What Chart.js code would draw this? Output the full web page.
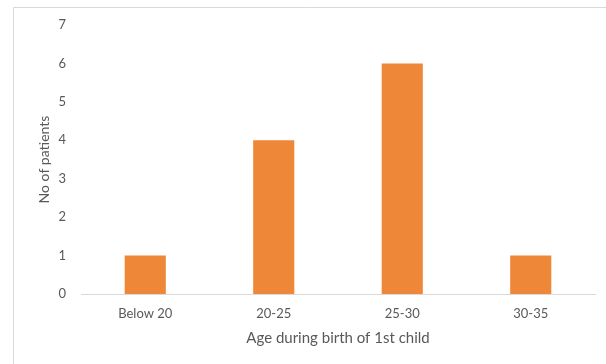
<!DOCTYPE html>
<html>
<head>
<meta charset="utf-8">
<script src="https://cdn.jsdelivr.net/npm/chart.js@4"></script>
<style>
    body { margin: 0; background: #fff; }
    #wrap { width: 606px; height: 364px; position: relative; }
</style>
</head>
<body>
<div id="wrap"><canvas id="ageChart"></canvas></div>
<script>
    // данные с картинки
    const categories = ['Below 20', '20-25', '25-30', '30-35'];
    const patients = [1, 4, 6, 1];
    const yTicks = [0, 1, 2, 3, 4, 5, 6, 7];

    const textColor = '#595959';
    const fontFamily = 'Lato, "Open Sans", sans-serif';

    // рамка вокруг диаграммы (видна только слева и сверху)
    const frame = {
        id: 'frame',
        beforeDraw(chart) {
            const ctx = chart.ctx;
            ctx.save();
            ctx.strokeStyle = '#d9d9d9';
            ctx.lineWidth = 1;
            ctx.beginPath();
            ctx.moveTo(13.5, 370);
            ctx.lineTo(13.5, 7.5);
            ctx.lineTo(610, 7.5);
            ctx.stroke();
            ctx.restore();
        }
    };

    new Chart(document.getElementById('ageChart'), {
        type: 'bar',
        data: {
            labels: categories,
            datasets: [{
                label: 'No of patients',
                data: patients,
                backgroundColor: '#EE8737',
                categoryPercentage: 1,
                barPercentage: 0.32
            }]
        },
        options: {
            responsive: true,
            maintainAspectRatio: false,
            animation: false,
            layout: {
                padding: {left: 0, right: 11, top: 25, bottom: 0}
            },
            plugins: {
                legend: {display: false},
                tooltip: {enabled: false}
            },
            scales: {
                x: {
                    grid: {display: false, drawTicks: false},
                    border: {display: true, color: '#d9d9d9', width: 1},
                    ticks: {
                        color: textColor,
                        padding: 12,
                        font: {family: fontFamily, size: 13}
                    },
                    title: {
                        display: true,
                        text: 'Age during birth of 1st child',
                        color: textColor,
                        font: {family: fontFamily, size: 15},
                        padding: {top: 0, bottom: 17}
                    },
                    afterFit(scale) {
                        scale.height = 70;
                    }
                },
                y: {
                    min: 0,
                    max: 7,
                    afterBuildTicks(scale) {
                        scale.ticks = yTicks.map(v => ({value: v}));
                    },
                    grid: {display: false, drawTicks: false},
                    border: {display: false},
                    ticks: {
                        color: textColor,
                        padding: 15,
                        font: {family: fontFamily, size: 13}
                    },
                    title: {
                        display: true,
                        text: 'No of patients',
                        color: textColor,
                        font: {family: fontFamily, size: 14},
                        padding: {top: 36, bottom: 0}
                    },
                    afterFit(scale) {
                        scale.width = 81;
                    }
                }
            }
        },
        plugins: [frame]
    });
</script>
</body>
</html>
